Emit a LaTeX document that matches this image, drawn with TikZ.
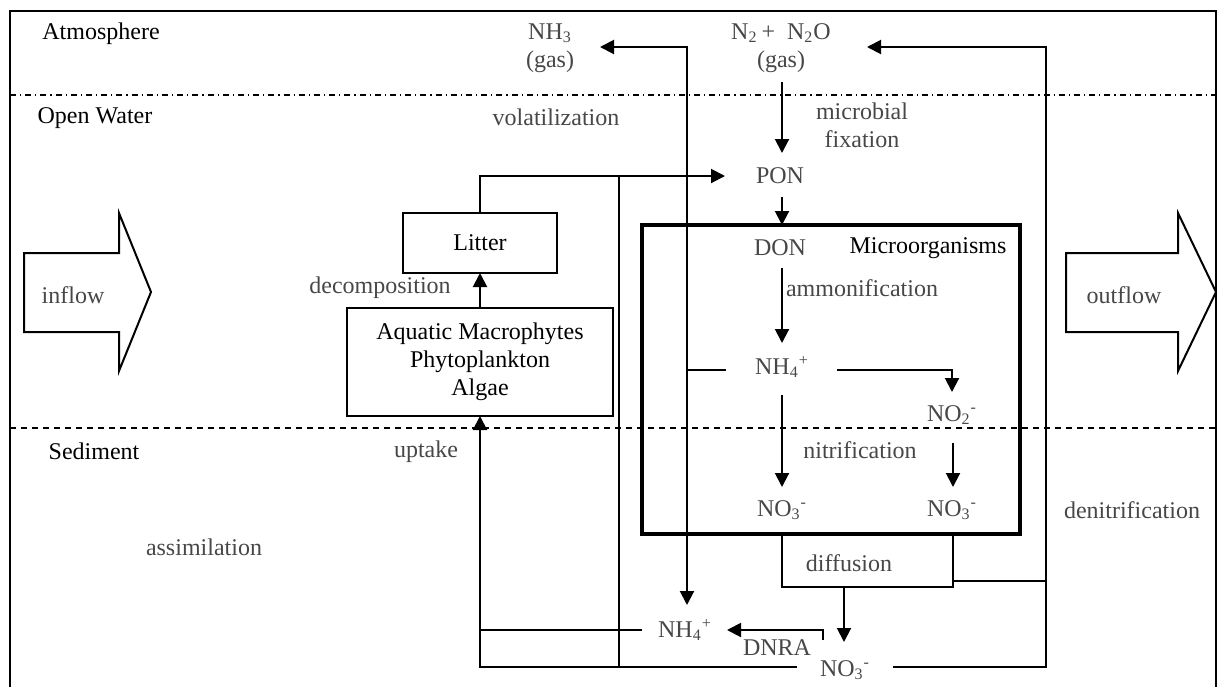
\documentclass[tikz,border=0pt]{standalone}
\usepackage{fontspec}
\setmainfont{Liberation Serif}
\usetikzlibrary{arrows.meta}
\begin{document}
\begin{tikzpicture}[x=0.5pt,y=-0.5pt,
  every node/.style={font=\fontsize{12}{14}\selectfont, inner sep=0pt, outer sep=0pt},
  proc/.style={text=black!72, align=center},
  region/.style={text=black},
  conn/.style={line width=1pt},
  flow/.style={line width=1pt, -{Triangle[length=7pt,width=7pt]}},
  pbox/.style={draw, line width=1pt, align=center, text=black},
  zone/.style={line width=0.9pt},
  bigarrow/.style={draw, line width=1pt, fill=white, line join=miter}
]
\useasboundingbox (0,0) rectangle (1221,687);

% zone boundaries
\draw[zone, dash pattern=on 3pt off 2pt on 0.6pt off 2pt] (10,95) -- (1216,95);
\draw[zone, dash pattern=on 3pt off 2.5pt] (10,428) -- (1216,428);

% outer frame
\draw[line width=1pt] (10,687) -- (10,11) -- (1216,11) -- (1216,687);

% zone names
\node[region] (atm) at (101,34) {Atmosphere};
\node[region] (ow) at (95,118) {Open Water};
\node[region] (sed) at (94,451) {Sediment};

% inflow and outflow
\draw[bigarrow] (24,253) -- (119,253) -- (119,213) -- (151,292) -- (119,371) -- (119,332) -- (24,332) -- cycle;
\draw[bigarrow] (1066,253) -- (1178,253) -- (1178,213) -- (1216,292) -- (1178,371) -- (1178,332) -- (1066,332) -- cycle;
\node[proc] (inflow) at (73,295) {inflow};
\node[proc] (outflow) at (1124,295) {outflow};

% compartments
\node[pbox, minimum width=77pt, minimum height=30pt] (litter) at (480,243) {Litter};
\node[pbox, minimum width=133pt, minimum height=54pt] (aqua) at (480,362) {Aquatic Macrophytes\\Phytoplankton\\Algae};
\node[draw, line width=2.4pt, minimum width=189pt, minimum height=154.5pt] (micro) at (831,379.5) {};
\node[region] (microlbl) at (928,248) {Microorganisms};

% nitrogen species
\node[proc] (nh3) at (550,48) {NH\textsubscript{3}\\(gas)};
\node[proc] (n2) at (781,48) {N\textsubscript{2}\,+\ \ N\textsubscript{2}O\\(gas)};
\node[proc] (pon) at (780,176) {PON};
\node[proc] (don) at (780,248) {DON};
\node[proc] (nh4w) at (782,367) {NH\textsubscript{4}\textsuperscript{+}};
\node[proc] (no2) at (952,415) {NO\textsubscript{2}\textsuperscript{-}};
\node[proc] (no3a) at (782,510) {NO\textsubscript{3}\textsuperscript{-}};
\node[proc] (no3b) at (952,510) {NO\textsubscript{3}\textsuperscript{-}};
\node[proc] (nh4s) at (685,630) {NH\textsubscript{4}\textsuperscript{+}};
\node[proc] (no3s) at (845,670) {NO\textsubscript{3}\textsuperscript{-}};

% process names
\node[proc] (vol) at (556,117) {volatilization};
\node[proc] (fix) at (862,125) {microbial\\fixation};
\node[proc] (decomp) at (380,288) {decomposition};
\node[proc] (amm) at (862,288) {ammonification};
\node[proc] (nitr) at (860,450) {nitrification};
\node[proc] (upt) at (426,452) {uptake};
\node[proc] (assim) at (204,547) {assimilation};
\node[proc] (diff) at (849,563) {diffusion};
\node[proc] (denitr) at (1132,510) {denitrification};
\node[proc] (dnra) at (777,648) {DNRA};

% connector ends and bends
\coordinate (nh3in) at (600,47);
\coordinate (volup) at (687,47);
\coordinate (nh4wl) at (726,370);
\coordinate (voljoin) at (687,370);
\coordinate (nh4sin) at (687,605);
\coordinate (ponin) at (725,176);
\coordinate (ponfeed) at (619,176);
\coordinate (no3sl) at (797,667);
\coordinate (nh4sl) at (642,630);
\coordinate (no3sr) at (893,667);
\coordinate (dentop) at (1046,47);
\coordinate (n2in) at (867,47);
\coordinate (denitl) at (953,581);
\coordinate (dl) at (782,534);
\coordinate (dr) at (953,534);
\coordinate (dlb) at (782,587);
\coordinate (dmid) at (844,587);
\coordinate (no3sin) at (844,642);
\coordinate (dnras) at (823,640);
\coordinate (nh4sr) at (727,630);
\coordinate (fixs) at (782,82);
\coordinate (fixe) at (782,153);
\coordinate (pons) at (782,197);
\coordinate (amms) at (782,268);
\coordinate (amme) at (782,343);
\coordinate (nitas) at (837,370);
\coordinate (nitae) at (952,392);
\coordinate (nitbs) at (782,395);
\coordinate (nitbe) at (782,487);
\coordinate (nitcs) at (953,443);
\coordinate (nitce) at (953,487);

% volatilization
\draw[flow] (nh4wl) -| (volup) -- (nh3in);
\draw[flow] (voljoin) -- (nh4sin);

% litter to PON
\draw[flow] (litter.north) |- (ponin);
\draw[conn] (ponfeed) -- (ponfeed |- no3sl);

% decomposition and assimilation
\draw[flow] (aqua.north) -- (litter.south);
\draw[flow] (no3sl) -| (aqua.south);
\draw[conn] (nh4sl) -- (nh4sl -| aqua.south);

% denitrification
\draw[flow] (no3sr) -| (dentop) -- (n2in);
\draw[conn] (denitl) -- (denitl -| dentop);

% diffusion
\draw[conn] (dl) -- (dlb) -| (dr);
\draw[flow] (dmid) -- (no3sin);

% DNRA
\draw[flow] (dnras) |- (nh4sr);

% fixation, ammonification, nitrification
\draw[flow] (fixs) -- (fixe);
\draw[flow] (pons) -- (pons |- micro.north);
\draw[flow] (amms) -- (amme);
\draw[flow] (nitas) -| (nitae);
\draw[flow] (nitbs) -- (nitbe);
\draw[flow] (nitcs) -- (nitce);
\end{tikzpicture}
\end{document}
